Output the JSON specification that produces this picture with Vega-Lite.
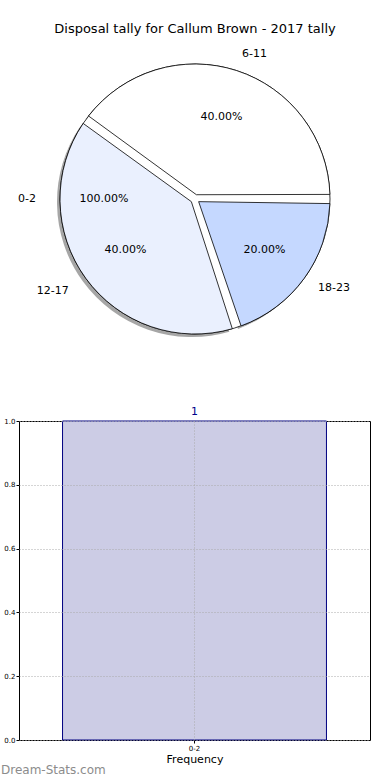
{
  "$schema": "https://vega.github.io/schema/vega-lite/v6.json",
  "background": "white",
  "padding": {"top": 22, "left": 0, "right": 0, "bottom": 0},
  "config": {"font": "DejaVu Sans", "view": {"stroke": null}},
  "datasets": {
    "slices": [
      {"age": "6-11", "pct": 40, "i": 1, "label": "40.00%"},
      {"age": "12-17", "pct": 40, "i": 2, "label": "40.00%"},
      {"age": "18-23", "pct": 20, "i": 3, "label": "20.00%"}
    ],
    "whole": [
      {"age": "0-2", "pct": 100, "i": 0, "label": "100.00%"}
    ],
    "freq": [
      {"age": "0-2", "count": 1}
    ]
  },
  "vconcat": [
    {
      "width": 352,
      "height": 296,
      "title": {"text": "Disposal tally for Callum Brown - 2017 tally", "fontSize": 13, "fontWeight": "normal", "offset": 9, "anchor": "middle", "color": "#000000"},
      "encoding": {
        "theta": {"field": "pct", "type": "quantitative", "stack": true, "scale": {"range": [1.5707963267948966, -4.7123890]}},
        "order": {"field": "i", "type": "quantitative"}
      },
      "layer": [
        {
          "data": {"name": "slices"},
          "mark": {"type": "arc", "outerRadius": 135, "innerRadius": 4.5, "padAngle": 0.068, "fill": "#4d4d4d", "opacity": 0.5, "xOffset": -3, "yOffset": 3}
        },
        {
          "data": {"name": "whole"},
          "mark": {"type": "arc", "outerRadius": 135, "fill": "white", "stroke": "black", "strokeWidth": 0.8}
        },
        {
          "data": {"name": "slices"},
          "mark": {"type": "arc", "outerRadius": 135, "innerRadius": 4.5, "padAngle": 0.068, "stroke": "black", "strokeWidth": 0.8},
          "encoding": {
            "color": {"field": "age", "type": "nominal", "scale": {"domain": ["6-11", "12-17", "18-23"], "range": ["#ffffff", "#eaf0fe", "#c5d8ff"]}, "legend": null}
          }
        },
        {
          "data": {"name": "slices"},
          "mark": {"type": "text", "radius": 152, "align": "left", "baseline": "middle", "fontSize": 11, "color": "#000000"},
          "encoding": {
            "text": {"condition": {"test": "datum.age !== '12-17'", "field": "age"}, "value": ""}
          }
        },
        {
          "data": {"name": "slices"},
          "mark": {"type": "text", "radius": 156, "align": "right", "baseline": "middle", "fontSize": 11, "color": "#000000"},
          "encoding": {
            "text": {"condition": {"test": "datum.age === '12-17'", "field": "age"}, "value": ""}
          }
        },
        {
          "data": {"name": "whole"},
          "mark": {"type": "text", "radius": 159, "align": "right", "baseline": "middle", "fontSize": 11, "color": "#000000"},
          "encoding": {"text": {"field": "age"}}
        },
        {
          "data": {"name": "slices"},
          "mark": {"type": "text", "radius": 86, "align": "center", "baseline": "middle", "fontSize": 11, "color": "#000000"},
          "encoding": {"text": {"field": "label"}}
        },
        {
          "data": {"name": "whole"},
          "mark": {"type": "text", "radius": 91, "align": "center", "baseline": "middle", "fontSize": 11, "color": "#000000"},
          "encoding": {"text": {"field": "label"}}
        }
      ]
    },
    {
      "width": 351,
      "height": 319,
      "data": {"name": "freq"},
      "view": {"stroke": "black", "strokeWidth": 1},
      "title": {"text": "Dream-Stats.com", "orient": "bottom", "anchor": "start", "frame": "group", "dx": -18, "offset": 1, "fontSize": 12, "fontWeight": "normal", "color": "#8c8c8c"},
      "encoding": {
        "x": {"field": "age", "type": "nominal", "scale": {"paddingInner": 0, "paddingOuter": 0.165},
          "axis": {"zindex": 1, "labelAngle": 0, "labelFontSize": 7, "labelColor": "#000000", "title": "Frequency", "titleFontSize": 11, "titleFontWeight": "normal", "titleColor": "#000000", "titlePadding": 2, "grid": true, "bandPosition": 0.5, "gridDash": [1, 2], "gridColor": "#aaaaaa", "domain": false, "tickSize": 3, "labelPadding": 1, "tickColor": "#000000"}},
        "y": {"field": "count", "type": "quantitative", "scale": {"domain": [0, 1]},
          "axis": {"zindex": 1, "values": [0, 0.2, 0.4, 0.6, 0.8, 1.0], "format": ".1f", "title": null, "labelFontSize": 7, "labelColor": "#000000", "grid": true, "gridDash": [1, 2], "gridColor": "#aaaaaa", "domain": false, "tickSize": 3, "labelPadding": 1, "tickColor": "#000000"}}
      },
      "layer": [
        {"mark": {"type": "bar", "fill": "#ccccE5", "stroke": "#000080", "strokeWidth": 1}},
        {"mark": {"type": "text", "dy": -9, "color": "#00008b", "fontSize": 11, "baseline": "middle"},
          "encoding": {"text": {"field": "count"}}}
      ]
    }
  ],
  "spacing": 74,
  "bounds": "flush"
}
